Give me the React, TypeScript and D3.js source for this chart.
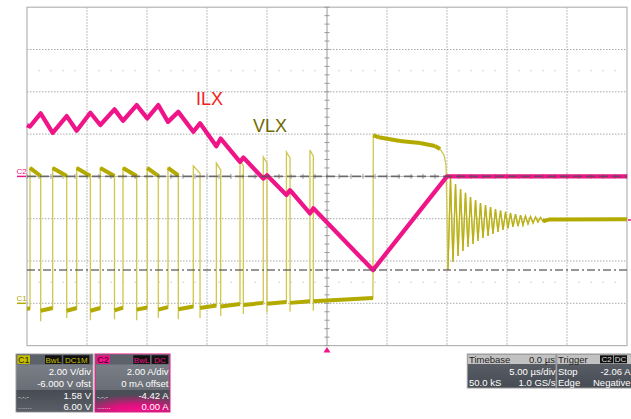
import React from 'react';
import * as d3 from 'd3';

const W = 631;
const H = 419;

// ---- ILX (channel 2), time in µs, current in A ----
const ilxTime = [-25, -24.75, -23.86, -22.86, -21.69, -20.86, -19.72, -18.89, -17.71, -17.0, -15.86, -14.98, -14.06, -13.25, -12.39, -11.14, -10.58, -9.22, -8.86, -7.25, -6.97, -5.31, -5.0, -3.38, -3.08, -1.42, -1.14, 3.83, 10.0, 25];
const ilxAmps = [2.42, 2.36, 2.98, 2.06, 2.85, 2.16, 3.01, 2.43, 3.17, 2.63, 3.37, 2.74, 3.37, 2.58, 3.05, 2.11, 2.51, 1.43, 1.79, 0.69, 0.89, -0.1, 0.05, -0.88, -0.65, -1.75, -1.51, -4.43, 0, 0];

// ---- VLX (channel 1) switching pulses, time in µs, voltage in V ----
const firstLow = -0.25;
const pulseRise = [-24.75, -22.86, -20.86, -18.89, -17.0, -14.98, -13.25, -11.14, -9.22, -7.25, -5.31, -3.38, -1.42];
const pulseFall = [-23.86, -21.69, -19.72, -17.71, -15.86, -14.06, -12.39, -10.58, -8.86, -6.97, -5.0, -3.08, -1.14];
const pulseTopStart = [6.4, 6.4, 6.4, 6.4, 6.4, 6.4, 6.4, 6.5, 6.63, 6.78, 6.92, 7.15, 7.25];
const pulseTopEnd = [6.02, 6.02, 6.02, 6.02, 6.02, 6.02, 6.05, 6.15, 6.3, 6.49, 6.63, 6.87, 6.96];
const fallSpike = [-0.85, -0.7, -0.8, -0.75, -0.8, -0.7, -0.75, -0.7, -0.6, -0.5, -0.45, -0.4, -0.35];
const lowStart = [-0.35, -0.35, -0.35, -0.33, -0.3, -0.3, -0.28, -0.22, -0.15, -0.08, -0.02, 0.02, 0.1];
const lowEnd = [-0.22, -0.22, -0.22, -0.2, -0.2, -0.18, -0.15, -0.1, -0.03, 0.02, 0.06, 0.1, 0.25];
const lastLowEnd = 3.83;

// ---- VLX after switching stops: plateau, fall and ringing ----
const tailTime = [3.83, 3.86, 4.3, 6.08, 7.75, 9.0, 9.42, 9.75, 9.92,
  10.08, 10.29, 10.5, 10.71, 10.92, 11.13, 11.33, 11.54, 11.75, 11.96, 12.17, 12.38, 12.58, 12.79, 13.0, 13.21, 13.42, 13.63, 13.83, 14.04,
  14.25, 14.46, 14.67, 14.88, 15.08, 15.29, 15.5, 15.71, 15.92, 16.13, 16.33, 16.54, 16.75, 16.96, 17.17, 17.38, 17.58, 17.79, 18.0, 18.42, 25];
const tailVolts = [0.25, 7.95, 7.85, 7.67, 7.58, 7.44, 7.3, 7.01, 6.54,
  1.57, 5.92, 1.95, 5.64, 2.24, 5.4, 2.47, 5.22, 2.66, 5.03, 2.8, 4.88, 2.95, 4.74, 3.09, 4.65, 3.18, 4.55, 3.28, 4.46,
  3.37, 4.39, 3.47, 4.32, 3.54, 4.27, 3.61, 4.22, 3.65, 4.17, 3.7, 4.13, 3.75, 4.1, 3.8, 4.08, 3.84, 4.06, 3.87, 3.96, 3.97];
const ringingStart = 10.0;

// ---- grid / cursors ----
const timeGrid = [-20, -15, -10, -5, 5, 10, 15, 20];
const ampGrid = [-6, -4, -2, 2, 4, 6];
const cursorDashDot = -4.42;
const cursorDotted = 0;
const triggerLevel = -2.06;
const dotRowsAmps = [5, -5];

const xS = d3.scaleLinear().domain([-25, 25]).range([27, 627]);
const yI = d3.scaleLinear().domain([-8, 8]).range([345.6, 7.2]);
const yV = d3.scaleLinear().domain([-2, 14]).range([345.6, 7.2]);

const FONT = '"Liberation Sans", Arial, sans-serif';
const OLIVE = '#b3aa00';
const OLIVE_LIGHT = '#cfc74e';
const OLIVE_RING = '#bab11a';
const PINK = '#ef1589';

function buildVlx(): [number, number][] {
  const pts: [number, number][] = [[-25, firstLow]];
  for (let i = 0; i < pulseRise.length; i++) {
    const prev = i === 0 ? firstLow : lowEnd[i - 1];
    pts.push([pulseRise[i], prev]);
    pts.push([pulseRise[i], pulseTopStart[i]]);
    pts.push([pulseFall[i], pulseTopEnd[i]]);
    pts.push([pulseFall[i], fallSpike[i]]);
    pts.push([pulseFall[i], lowStart[i]]);
  }
  pts.push([lastLowEnd, lowEnd[lowEnd.length - 1]]);
  for (let i = 0; i < tailTime.length; i++) pts.push([tailTime[i], tailVolts[i]]);
  return pts;
}

export default function App() {
  const ilxPts: [number, number][] = ilxTime.map((t, i) => [t, ilxAmps[i]]);
  const vlxPts = buildVlx();
  const ringPts = vlxPts.filter(p => p[0] >= ringingStart);
  const ilxLine = d3.line<[number, number]>().x(d => xS(d[0])).y(d => yI(d[1]));
  const vlxLine = d3.line<[number, number]>().x(d => xS(d[0])).y(d => yV(d[1]));

  const thickSegs: { x1: number; y1: number; x2: number; y2: number }[] = [];
  for (let i = 1; i < vlxPts.length; i++) {
    const x1 = xS(vlxPts[i - 1][0]), y1 = yV(vlxPts[i - 1][1]);
    const x2 = xS(vlxPts[i][0]), y2 = yV(vlxPts[i][1]);
    if (Math.abs(x2 - x1) >= Math.abs(y2 - y1)) thickSegs.push({ x1, y1, x2, y2 });
  }

  const x0 = xS(-25), x1 = xS(25), y0 = yI(8), y1 = yI(-8);
  const cx = xS(0), cy = yI(0);
  const vTicks = d3.range(-8, 8.001, 0.4).map(v => yI(v));
  const hTicks = d3.range(-25, 25.001, 1).map(t => xS(t));
  const dotXs = d3.range(-25, 25.001, 1).filter(t => Math.round(t) % 5 !== 0).map(t => xS(t));

  const txt = (x: number, y: number, s: string, anchor: string, fill: string, size = 9.5) => (
    <text x={x} y={y} textAnchor={anchor as any} fill={fill} fontSize={size} fontFamily={FONT}>{s}</text>
  );

  return (
    <div style={{ position: 'fixed', left: 0, top: 0, width: W, height: H, background: '#fff' }}>
      <svg width={W} height={H} viewBox={`0 0 ${W} ${H}`} style={{ display: 'block' }}>
        <defs>
          <linearGradient id="c1body" x1="0" y1="0" x2="0" y2="1">
            <stop offset="0" stopColor="#80848c" />
            <stop offset="1" stopColor="#5c6069" />
          </linearGradient>
          <linearGradient id="c1low" x1="0" y1="0" x2="0" y2="1">
            <stop offset="0" stopColor="#474b53" />
            <stop offset="1" stopColor="#5a5e66" />
          </linearGradient>
          <radialGradient id="c2low" cx="0.55" cy="1.1" r="0.9">
            <stop offset="0" stopColor="#ff1090" />
            <stop offset="0.45" stopColor="#e0107e" />
            <stop offset="1" stopColor="#4a4e57" />
          </radialGradient>
          <linearGradient id="tbbody" x1="0" y1="0" x2="0" y2="1">
            <stop offset="0" stopColor="#5f636c" />
            <stop offset="1" stopColor="#474b53" />
          </linearGradient>
        </defs>
        <rect x={0} y={0} width={W} height={H} fill="#fff" />

        {/* grid */}
        {timeGrid.map(t => (
          <line key={'gx' + t} x1={xS(t)} x2={xS(t)} y1={y0} y2={y1} stroke="#a9a9a9" strokeWidth={1} strokeDasharray="1.5,1.5" />
        ))}
        {ampGrid.map(a => (
          <line key={'gy' + a} x1={x0} x2={x1} y1={yI(a)} y2={yI(a)} stroke="#a9a9a9" strokeWidth={1} strokeDasharray="1.5,1.5" />
        ))}
        {dotRowsAmps.map(a => dotXs.map((x, i) => (
          <rect key={'d' + a + '-' + i} x={x - 0.5} y={yI(a) - 0.5} width={1.2} height={1.2} fill="#c4c4c4" />
        )))}
        <rect x={x0} y={y0} width={x1 - x0} height={y1 - y0} fill="none" stroke="#b4b4b4" strokeWidth={1.2} />
        {/* center axes */}
        <line x1={cx} x2={cx} y1={y0} y2={y1} stroke="#9a9a9a" strokeWidth={1} />
        {vTicks.map((y, i) => <line key={'vt' + i} x1={cx - 2.5} x2={cx + 2.5} y1={y} y2={y} stroke="#9a9a9a" strokeWidth={1} />)}
        <line x1={x0} x2={x1} y1={cy} y2={cy} stroke="#b0b0b0" strokeWidth={1} />
        {hTicks.map((x, i) => <line key={'ht' + i} x1={x} x2={x} y1={cy - 2.5} y2={cy + 2.5} stroke="#9a9a9a" strokeWidth={1} />)}

        {/* VLX */}
        <path d={vlxLine(vlxPts) || ''} fill="none" stroke={OLIVE_LIGHT} strokeWidth={1.3} />
        <path d={vlxLine(ringPts) || ''} fill="none" stroke={OLIVE_RING} strokeWidth={1.3} />
        {thickSegs.map((s, i) => (
          <line key={'ts' + i} x1={s.x1} y1={s.y1} x2={s.x2} y2={s.y2} stroke={OLIVE} strokeWidth={4} strokeLinecap="butt" />
        ))}

        {/* ILX */}
        <path d={ilxLine(ilxPts) || ''} fill="none" stroke={PINK} strokeWidth={4.3} strokeLinejoin="round" />

        {/* cursors */}
        <line x1={x0} x2={x1} y1={yI(cursorDotted)} y2={yI(cursorDotted)} stroke="#505050" strokeOpacity={0.75} strokeWidth={1.6} strokeDasharray="9,4" />
        <line x1={x0} x2={x1} y1={yI(cursorDashDot)} y2={yI(cursorDashDot)} stroke="#505050" strokeOpacity={0.8} strokeWidth={1.5} strokeDasharray="8,3,2,3" />

        {/* trigger markers */}
        <path d={`M${cx - 3.5},${y1 + 7} L${cx + 3.5},${y1 + 7} L${cx},${y1 + 1.5} Z`} fill={PINK} />
        <line x1={x1 + 1} x2={W} y1={yI(triggerLevel)} y2={yI(triggerLevel)} stroke={PINK} strokeWidth={1.5} />

        {/* channel markers */}
        {txt(16.5, yI(0) - 2.5, 'C2', 'start', PINK, 8)}
        <line x1={17} x2={26} y1={yI(0)} y2={yI(0)} stroke={PINK} strokeWidth={1.5} />
        {txt(16.5, yV(0) - 2.5, 'C1', 'start', OLIVE, 8)}
        <line x1={17} x2={26} y1={yV(0)} y2={yV(0)} stroke={OLIVE} strokeWidth={1.5} />

        {/* labels */}
        {txt(196, 105, 'ILX', 'start', '#f21d1d', 18)}
        {txt(253, 131.5, 'VLX', 'start', '#6f6a00', 18)}

        {/* C1 panel */}
        <rect x={16} y={354} width={77} height={58} fill="url(#c1body)" stroke="#a0a0a0" strokeWidth={1} />
        <rect x={16.5} y={354.5} width={76} height={10} fill="#5d6169" />
        <rect x={16.5} y={390} width={76} height={21.5} fill="url(#c1low)" />
        <rect x={17.3} y={355.3} width={12.7} height={8.6} fill="#c9c100" />
        {txt(18, 363, 'C1', 'start', '#2a2a00', 9)}
        <rect x={45} y={355.3} width={16.7} height={8.6} fill="#111" />
        {txt(53.3, 362.6, 'BwL', 'middle', '#c9c100', 8)}
        <rect x={63.3} y={355.3} width={26} height={8.6} fill="#111" />
        {txt(76.3, 362.6, 'DC1M', 'middle', '#c9c100', 8)}
        {txt(91, 375, '2.00 V/div', 'end', '#fff', 9.5)}
        {txt(91, 386.5, '-6.000 V ofst', 'end', '#fff', 9.5)}
        {txt(18, 398.5, '-.-.-', 'start', '#ddd', 7)}
        {txt(91, 399, '1.58 V', 'end', '#fff', 9.5)}
        {txt(18, 409, '.......', 'start', '#ddd', 7)}
        {txt(91, 409.5, '6.00 V', 'end', '#fff', 9.5)}

        {/* C2 panel */}
        <rect x={95} y={354} width={75} height={58} fill="url(#c1body)" stroke={PINK} strokeWidth={1} />
        <rect x={95.5} y={354.5} width={74} height={10} fill="#5d6169" />
        <rect x={95.5} y={390} width={74} height={21.5} fill="url(#c2low)" />
        <rect x={96.5} y={355.3} width={13.5} height={8.6} fill={PINK} />
        {txt(97.3, 363, 'C2', 'start', '#3a0020', 9)}
        <rect x={133.3} y={355.3} width={16.7} height={8.6} fill="#111" />
        {txt(141.6, 362.6, 'BwL', 'middle', PINK, 8)}
        <rect x={151.7} y={355.3} width={16.6} height={8.6} fill="#111" />
        {txt(160, 362.6, 'DC', 'middle', PINK, 8)}
        {txt(168.5, 375, '2.00 A/div', 'end', '#fff', 9.5)}
        {txt(168.5, 386.5, '0 mA offset', 'end', '#fff', 9.5)}
        {txt(97, 398.5, '-.-.-', 'start', '#eee', 7)}
        {txt(168.5, 399, '-4.42 A', 'end', '#fff', 9.5)}
        {txt(97, 409, '.......', 'start', '#eee', 7)}
        {txt(168.5, 409.5, '0.00 A', 'end', '#fff', 9.5)}

        {/* Timebase panel */}
        <rect x={467.3} y={354} width={88.7} height={34} fill="url(#tbbody)" stroke="#9a9a9a" strokeWidth={1} />
        <rect x={467.8} y={354.5} width={87.7} height={9.5} fill="#c2c2c2" />
        {txt(469, 362.7, 'Timebase', 'start', '#222', 9.5)}
        {txt(555, 362.7, '0.0 µs', 'end', '#222', 9.5)}
        {txt(555.5, 375.3, '5.00 µs/div', 'end', '#fff', 9.5)}
        {txt(469, 385.7, '50.0 kS', 'start', '#fff', 9.5)}
        {txt(555.5, 385.7, '1.0 GS/s', 'end', '#fff', 9.5)}

        {/* Trigger panel */}
        <rect x={556.7} y={354} width={76} height={34} fill="url(#tbbody)" stroke="#9a9a9a" strokeWidth={1} />
        <rect x={557.2} y={354.5} width={75} height={9.5} fill="#c2c2c2" />
        {txt(558, 362.7, 'Trigger', 'start', '#222', 9.5)}
        <rect x={600} y={355.3} width={13.3} height={8} fill="#111" />
        {txt(606.6, 362.3, 'C2', 'middle', '#ddd', 8)}
        <rect x={614} y={355.3} width={13} height={8} fill="#111" />
        {txt(620.5, 362.3, 'DC', 'middle', '#ddd', 8)}
        {txt(558, 375.3, 'Stop', 'start', '#fff', 9.5)}
        {txt(630.5, 375.3, '-2.06 A', 'end', '#fff', 9.5)}
        {txt(558, 385.7, 'Edge', 'start', '#fff', 9.5)}
        {txt(630.5, 385.7, 'Negative', 'end', '#fff', 9.5)}
      </svg>
    </div>
  );
}
